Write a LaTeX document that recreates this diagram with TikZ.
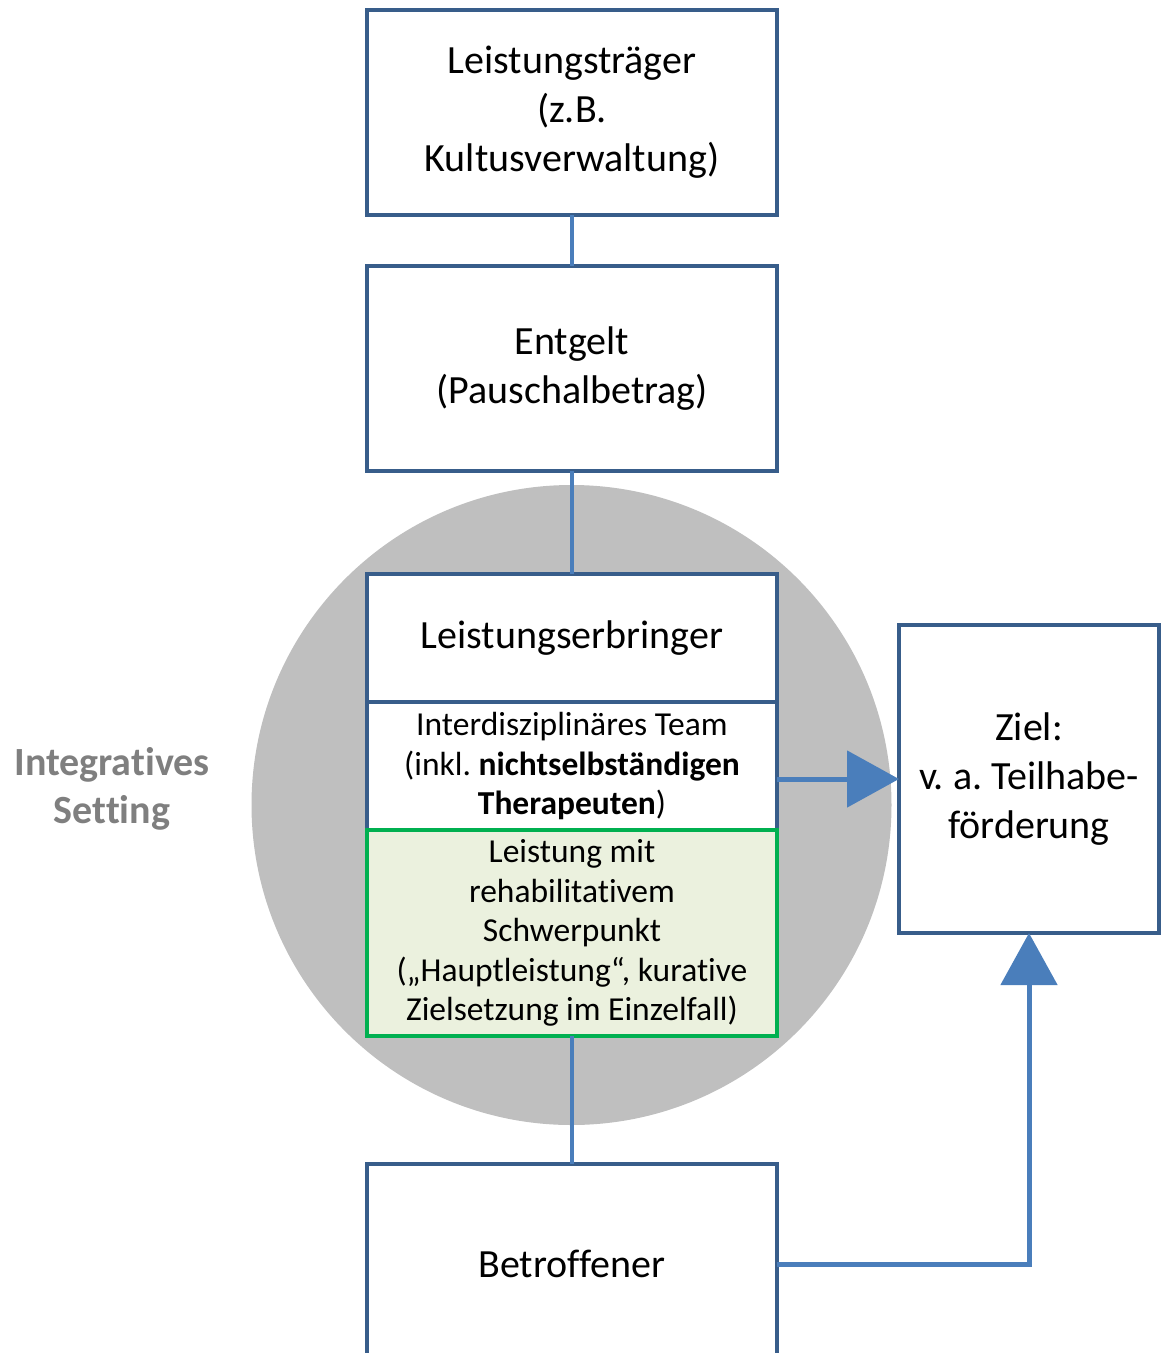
\documentclass[tikz,border=0pt]{standalone}
\usepackage{fontspec}
\setmainfont[Ligatures={NoCommon}]{Carlito}
\usetikzlibrary{arrows.meta}
\definecolor{boxblue}{HTML}{385D8A}
\definecolor{lineblue}{HTML}{4A7EBB}
\definecolor{circgray}{HTML}{BFBFBF}
\definecolor{grn}{HTML}{00B050}
\definecolor{grnfill}{HTML}{EBF1DE}
\definecolor{labgray}{HTML}{7F7F7F}
\frenchspacing
\begin{document}
\begin{tikzpicture}[x=1pt,y=-1pt,
  box/.style={draw=boxblue, line width=3.5pt, fill=white, minimum width=410pt,
    inner sep=0pt, outer sep=0pt, align=center, font=\fontsize{40}{49}\selectfont},
  smallbox/.style={box, font=\fontsize{33.5}{39.5}\selectfont},
  conn/.style={draw=lineblue, line width=4.5pt},
  arr/.style={draw=lineblue, line width=5pt, -{Triangle[length=52pt,width=56pt]}},
  lab/.style={font=\bfseries\fontsize{40}{48}\selectfont, text=labgray, align=center}]
\useasboundingbox (0,0) rectangle (1161,1353);
\clip (0,0) rectangle (1161,1353);
% background circle
\node[circle, fill=circgray, minimum size=640pt, inner sep=0pt] (circ) at (571.5,805) {};
% boxes
\node[box, minimum height=205pt] (lt) at (572,112.5) {Leistungsträger\\(z.B.\\Kultusverwaltung)};
\node[box, minimum height=205pt] (eg) at (572,368.5) {Entgelt\\(Pauschalbetrag)};
\node[box, minimum height=128pt] (le) at (572,638) {Leistungserbringer};
\node[smallbox, minimum height=128pt] (team) at (572,766)
  {Interdisziplinäres Team\\(inkl. \textbf{nichtselbständigen}\\\textbf{Therapeuten})};
\node[smallbox, draw=grn, fill=grnfill, minimum height=206pt] (gr) at (572,933)
  {Leistung mit\\rehabilitativem\\Schwerpunkt\\(„Hauptleistung“, kurative\\Zielsetzung im Einzelfall)};
\node[box, minimum height=200pt] (bt) at (572,1264) {Betroffener};
\node[box, minimum width=260pt, minimum height=308pt] (ziel) at (1029,779)
  {Ziel:\\v. a. Teilhabe-\\förderung};
\node[lab] (is) at (112,789) {Integratives\\Setting};
% connectors
\draw[conn] (lt.south) -- (eg.north);
\draw[conn] (eg.south) -- (le.north);
\draw[conn] (gr.south) -- (bt.north);
\draw[arr] (team.east |- ziel.west) -- (ziel.west);
\draw[arr] (bt.east) -| (ziel.south);
\end{tikzpicture}
\end{document}
